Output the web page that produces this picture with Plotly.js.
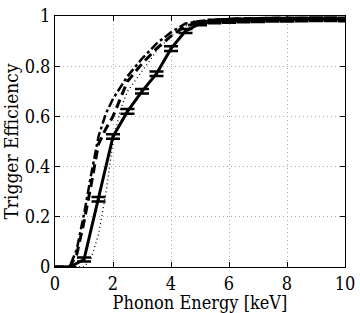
<!DOCTYPE html>
<html>
<head>
<meta charset="utf-8">
<script src="https://cdn.plot.ly/plotly-3.0.1.min.js"></script>
<style>html,body{margin:0;padding:0;background:#fff;}#plot{width:360px;height:313px;}</style>
</head>
<body>
<div id="plot"></div>
<script>
// Solid curve with error bars
const solidX = [0, 0.5, 1.0, 1.5, 2.0, 2.5, 3.0, 3.5, 4.0, 4.5, 5.0, 5.5, 6.0, 6.5, 7.0, 7.5, 8.0, 8.5, 9.0, 9.5, 10.0];
const solidY = [0, 0, 0.03, 0.27, 0.52, 0.62, 0.70, 0.77, 0.87, 0.94, 0.97, 0.978, 0.98, 0.982, 0.983, 0.985, 0.985, 0.986, 0.987, 0.987, 0.986];
const solidErr = [0, 0, 0.008, 0.009, 0.009, 0.009, 0.009, 0.009, 0.009, 0.008, 0.007, 0.007, 0.007, 0.007, 0.007, 0.007, 0.007, 0.007, 0.007, 0.007, 0.007];

// Dashed curve
const dashX = [0, 0.5, 0.75, 1.0, 1.25, 1.5, 1.75, 2.0, 2.5, 3.0, 3.5, 4.0, 4.5, 5.0, 5.5, 6.0, 7.0, 8.0, 9.0, 10.0];
const dashY = [0, 0, 0.05, 0.18, 0.33, 0.49, 0.55, 0.60, 0.74, 0.81, 0.87, 0.92, 0.96, 0.975, 0.982, 0.988, 0.99, 0.992, 0.99, 0.99];

// Dash-dot curve
const dashDotX = [0, 0.5, 0.75, 1.0, 1.25, 1.5, 1.75, 2.0, 2.5, 3.0, 3.5, 4.0, 4.5, 5.0, 5.5, 6.0, 7.0, 8.0, 9.0, 10.0];
const dashDotY = [0, 0, 0.07, 0.21, 0.37, 0.52, 0.61, 0.67, 0.76, 0.83, 0.89, 0.935, 0.97, 0.98, 0.985, 0.988, 0.99, 0.99, 0.992, 0.99];

// Dotted curve
const dotX = [0, 0.5, 1.0, 1.25, 1.5, 1.75, 2.0, 2.25, 2.5, 3.0, 3.5, 4.0, 4.5, 5.0, 5.5, 6.0, 7.0, 8.0, 9.0, 10.0];
const dotY = [0, 0, 0.0, 0.035, 0.13, 0.29, 0.50, 0.625, 0.70, 0.78, 0.86, 0.92, 0.96, 0.975, 0.982, 0.985, 0.988, 0.99, 0.99, 0.99];

const xTicks = [0, 2, 4, 6, 8, 10];
const yTicks = [0, 0.2, 0.4, 0.6, 0.8, 1];
const yTickText = ['0', '0.2', '0.4', '0.6', '0.8', '1'];

const traces = [
  {x: dotX, y: dotY, mode: 'lines', line: {color: '#000', width: 1.3, dash: '1px,3px'}},
  {x: dashDotX, y: dashDotY, mode: 'lines', line: {color: '#000', width: 2.5, dash: 'dashdot'}},
  {x: dashX, y: dashY, mode: 'lines', line: {color: '#000', width: 3, dash: '9px,5px'}},
  {x: solidX, y: solidY, mode: 'lines', line: {color: '#000', width: 3},
   error_y: {type: 'data', array: solidErr, visible: true, color: '#000', thickness: 2.5, width: 7}}
];

const fam = 'DejaVu Serif Condensed, DejaVu Serif, serif';
const layout = {
  width: 360, height: 313,
  margin: {l: 55, r: 15, t: 16, b: 46},
  showlegend: false,
  paper_bgcolor: '#fff', plot_bgcolor: '#fff',
  font: {family: fam, size: 18, color: '#000'},
  xaxis: {
    range: [0, 10], tickvals: xTicks, ticktext: xTicks.map(String),
    ticks: 'inside', ticklen: 5, tickcolor: '#000', mirror: 'ticks',
    showline: true, linecolor: '#000', linewidth: 1,
    showgrid: true, gridcolor: '#aaa', griddash: '1px,3px', gridwidth: 1,
    zeroline: false, tickfont: {family: fam, size: 18},
    title: {text: 'Phonon Energy [keV]', font: {family: fam, size: 18}, standoff: 6}
  },
  yaxis: {
    range: [0, 1], tickvals: yTicks, ticktext: yTickText,
    ticks: 'inside', ticklen: 5, tickcolor: '#000', mirror: 'ticks',
    showline: true, linecolor: '#000', linewidth: 1,
    showgrid: true, gridcolor: '#aaa', griddash: '1px,3px', gridwidth: 1,
    zeroline: false, tickfont: {family: fam, size: 18},
    title: {text: 'Trigger Efficiency', font: {family: fam, size: 19}, standoff: 2}
  }
};
Plotly.newPlot('plot', traces, layout, {displayModeBar: false, staticPlot: true});
</script>
</body>
</html>
